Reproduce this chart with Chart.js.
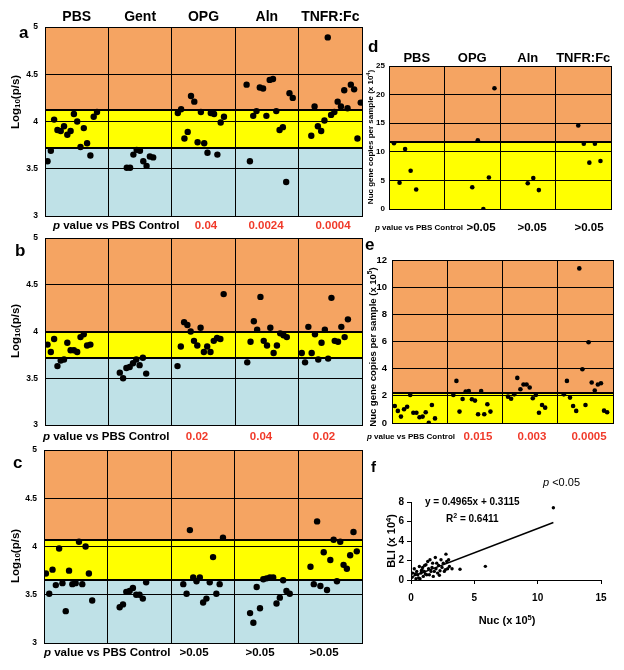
<!DOCTYPE html>
<html lang="en">
<head>
<meta charset="UTF-8">
<title>BLI and Nuc gene copies by treatment</title>
<script src="https://cdn.jsdelivr.net/npm/chart.js"></script>
<style>
  body { margin: 0; background: #fff; }
  #wrap { position: relative; width: 624px; height: 670px; }
  #wrap canvas { position: absolute; left: 0; top: 0; }
</style>
</head>
<body>
<div id="wrap">
  <canvas id="pa" width="624" height="670"></canvas>
  <canvas id="pb" width="624" height="670"></canvas>
  <canvas id="pc" width="624" height="670"></canvas>
  <canvas id="pd" width="624" height="670"></canvas>
  <canvas id="pe" width="624" height="670"></canvas>
  <canvas id="pf" width="624" height="670"></canvas>
</div>
<script>
const FONT = '"Liberation Sans", Arial, sans-serif';
const ORANGE = '#F5A462', YELLOW = '#FFFF00', BLUE = '#BFE1E7', RED = '#F03A2A';

// groups
const groups5 = ['PBS', 'Gent', 'OPG', 'Aln', 'TNFR:Fc'];
const groups4 = ['PBS', 'OPG', 'Aln', 'TNFR:Fc'];

// panel a - Log10(p/s)
const aPBS = [3.58, 3.69, 4.02, 3.91, 3.90, 3.95, 3.86, 3.90, 4.08, 4.00, 3.73, 3.93, 3.77, 3.64, 4.05, 4.10];
const aGent = [3.51, 3.51, 3.65, 3.70, 3.69, 3.58, 3.53, 3.63, 3.62];
const aOPG = [4.09, 4.13, 3.82, 3.89, 4.27, 4.21, 3.78, 4.10, 3.77, 3.67, 4.09, 4.08, 3.65, 3.99, 4.05];
const aAln = [4.39, 3.58, 4.06, 4.11, 4.36, 4.35, 4.06, 4.44, 4.45, 4.11, 3.91, 3.94, 3.36, 4.30, 4.25];
const aTNFR = [3.85, 4.16, 3.95, 3.90, 4.01, 4.89, 4.07, 4.10, 4.21, 4.16, 4.33, 4.14, 4.39, 4.34, 3.82, 4.20];
const aCuts = [3.72, 4.12];
const aP = ['0.04', '0.0024', '0.0004'];

// panel b
const bPBS = [3.86, 3.78, 3.92, 3.63, 3.69, 3.70, 3.88, 3.80, 3.80, 3.78, 3.94, 3.97, 3.85, 3.86];
const bGent = [3.56, 3.50, 3.61, 3.62, 3.66, 3.70, 3.64, 3.72, 3.55];
const bOPG = [3.63, 3.84, 4.10, 4.07, 4.00, 3.90, 3.85, 4.04, 3.78, 3.84, 3.78, 3.90, 3.93, 3.92, 4.40];
const bAln = [3.67, 3.89, 4.11, 4.02, 4.37, 3.90, 3.85, 4.04, 3.77, 3.85, 3.98, 3.96, 3.94];
const bTNFR = [3.77, 3.67, 4.05, 3.77, 3.97, 3.70, 3.88, 4.02, 3.71, 4.36, 3.90, 3.89, 4.05, 3.94, 4.13];
const bCuts = [3.72, 4.0];
const bP = ['0.02', '0.04', '0.02'];

// panel c
const cPBS = [3.72, 3.51, 3.76, 3.60, 3.98, 3.62, 3.33, 3.75, 3.61, 3.62, 4.05, 3.61, 4.00, 3.72, 3.44];
const cGent = [3.37, 3.40, 3.53, 3.54, 3.57, 3.50, 3.50, 3.46, 3.63];
const cOPG = [3.61, 3.51, 4.17, 3.68, 3.64, 3.68, 3.42, 3.46, 3.63, 3.89, 3.51, 3.61, 4.09];
const cAln = [3.31, 3.21, 3.58, 3.36, 3.66, 3.67, 3.68, 3.68, 3.41, 3.47, 3.65, 3.54, 3.51];
const cTNFR = [3.79, 3.61, 4.26, 3.59, 3.94, 3.55, 3.86, 4.07, 3.64, 4.05, 3.81, 3.77, 3.91, 4.15, 3.95];
const cCuts = [3.65, 4.07];
const cP = ['>0.05', '>0.05', '>0.05'];

// panel d - Nuc gene copies per sample (x 10^4)
const dPBS = [11.5, 4.6, 10.5, 6.7, 3.4];
const dOPG = [3.8, 12.0, 0.0, 5.5, 21.1];
const dAln = [4.5, 5.4, 3.3];
const dTNFR = [14.6, 11.4, 8.1, 11.4, 8.4];
const dCuts = [11.66];
const dP = ['>0.05', '>0.05', '>0.05'];

// panel e - Nuc gene copies per sample (x 10^5)
const ePBS = [1.25, 0.89, 0.47, 1.01, 1.20, 2.07, 0.76, 0.76, 0.42, 0.47, 0.79, 0.02, 1.33, 0.34];
const eOPG = [2.07, 3.10, 0.84, 1.77, 2.31, 2.36, 1.75, 1.65, 0.64, 2.36, 0.64, 1.38, 0.84];
const eAln = [1.94, 1.79, 2.11, 3.32, 2.48, 2.83, 2.83, 2.61, 1.82, 2.07, 0.76, 1.33, 1.13];
const eTNFR = [2.11, 3.10, 1.87, 1.25, 0.89, 11.38, 3.96, 1.33, 5.95, 2.98, 2.39, 2.83, 2.93, 0.91, 0.79];
const eCuts = [2.21];
const eP = ['0.015', '0.003', '0.0005'];

// panel f - BLI vs Nuc
const fNuc = [0.08, 0.13, 0.26, 0.34, 0.39, 0.45, 0.53, 0.60, 0.66, 0.71, 0.79, 0.82, 0.87, 0.92, 0.97,
  1.05, 1.08, 1.13, 1.18, 1.24, 1.32, 1.39, 1.45, 1.50, 1.58, 1.66, 1.71, 1.76, 1.84, 1.92, 1.97,
  2.03, 2.10, 2.18, 2.24, 2.29, 2.37, 2.45, 2.55, 2.63, 2.71, 2.76, 2.82, 2.89, 2.97, 3.03, 3.24,
  3.87, 5.87, 11.24];
const fBLI = [0.27, 0.71, 1.16, 0.61, 0.14, 0.88, 0.54, 0.20, 1.39, 0.14, 0.71, 0.95, 1.05, 1.29, 0.37,
  0.88, 1.50, 0.61, 1.56, 0.54, 1.90, 1.16, 0.54, 2.07, 0.88, 1.29, 1.73, 0.37, 0.88, 2.31, 1.16,
  1.73, 0.71, 1.50, 0.48, 0.95, 2.07, 1.29, 1.73, 0.88, 1.05, 2.65, 1.90, 1.16, 2.07, 1.39, 1.16,
  1.10, 1.40, 7.41];
const fitSlope = 0.4965, fitIntercept = 0.3115, fitR2 = 0.6411;

function f(size, style) { return (style || 'bold') + ' ' + size + 'px ' + FONT; }

// draw a run of text pieces (for italics / sub / superscripts)
function drawRun(ctx, parts, x, y, align) {
  let total = 0;
  parts.forEach(p => { ctx.font = p.font; p.w = ctx.measureText(p.text).width; total += p.w; });
  let cx = align === 'center' ? x - total / 2 : x;
  ctx.textAlign = 'left';
  ctx.textBaseline = 'middle';
  parts.forEach(p => { ctx.font = p.font; ctx.fillText(p.text, cx, y + (p.dy || 0)); cx += p.w; });
}

function drawRotated(ctx, parts, x, y) {
  ctx.save();
  ctx.translate(x, y);
  ctx.rotate(-Math.PI / 2);
  drawRun(ctx, parts, 0, 0, 'center');
  ctx.restore();
}

const bandPlugin = {
  id: 'bands',
  beforeDraw(chart, args, o) {
    if (!o.cuts) return;
    const { ctx, chartArea: a, scales: { y } } = chart;
    const edges = [y.min].concat(o.cuts, [y.max]);
    ctx.save();
    o.colors.forEach((c, i) => {
      const top = y.getPixelForValue(edges[i + 1]), bot = y.getPixelForValue(edges[i]);
      ctx.fillStyle = c;
      ctx.fillRect(a.left, top, a.right - a.left, bot - top);
    });
    ctx.restore();
  },
  beforeDatasetsDraw(chart, args, o) {
    if (!o.cuts) return;
    const { ctx, chartArea: a, scales: { y } } = chart;
    ctx.save();
    ctx.strokeStyle = '#000';
    ctx.lineWidth = 2;
    o.cuts.forEach(v => {
      const py = Math.round(y.getPixelForValue(v));
      ctx.beginPath();
      ctx.moveTo(a.left, py);
      ctx.lineTo(a.right, py);
      ctx.stroke();
    });
    ctx.restore();
  }
};

const textPlugin = {
  id: 'texts',
  afterDraw(chart, args, o) {
    const ctx = chart.ctx, xs = chart.scales.x;
    ctx.save();
    ctx.fillStyle = '#000';
    ctx.font = f(o.letterSize);
    ctx.textAlign = 'left';
    ctx.textBaseline = 'alphabetic';
    ctx.fillText(o.letter, o.letterPos[0], o.letterPos[1]);
    if (o.headerY) {
      ctx.font = f(o.headerSize);
      ctx.textAlign = 'center';
      o.groups.forEach((g, i) => ctx.fillText(g, xs.getPixelForValue(i + 0.5), o.headerY));
    }
    if (o.yTitle) drawRotated(ctx, o.yTitle.parts, o.yTitle.x, o.yTitle.y);
    if (o.pRow) {
      const p = o.pRow;
      ctx.fillStyle = '#000';
      drawRun(ctx, [{ text: 'p', font: f(p.size, 'italic bold') }, { text: ' value vs PBS Control', font: f(p.size) }], p.x, p.y, 'left');
      ctx.fillStyle = p.color;
      p.labels.forEach((t, i) => drawRun(ctx, [{ text: t, font: f(p.valSize) }], p.xs[i], p.y, 'center'));
    }
    if (o.extra) o.extra(ctx);
    ctx.restore();
  }
};

const plainTick = v => String(v);

// the axes boxes reach to the page edge (left / bottom) so tick labels are not clipped
function dotChart(o) {
  const pts = [];
  o.series.forEach((vals, g) => vals.forEach((v, i) => pts.push({ x: g + o.xStart[g] + i * o.xStep, y: v })));
  const tickFont = { family: FONT, size: o.tickSize, weight: 'bold' };
  new Chart(document.getElementById(o.id), {
    type: 'scatter',
    data: { datasets: [{ data: pts, backgroundColor: '#000', borderWidth: 0, pointRadius: o.r, pointHoverRadius: o.r }] },
    options: {
      responsive: false, animation: false, devicePixelRatio: 1, events: [],
      layout: { padding: { left: 0, top: o.box[1], right: 624 - o.box[2], bottom: 0 } },
      scales: {
        x: {
          type: 'linear', min: 0, max: o.series.length,
          ticks: { display: false, stepSize: 1 },
          grid: { color: '#000', lineWidth: 1, drawTicks: false },
          border: { color: '#000', width: 1 },
          afterFit: s => { s.height = 670 - o.box[3]; }
        },
        y: {
          min: o.y[0], max: o.y[1],
          ticks: { stepSize: o.y[2], font: tickFont, color: '#000', padding: o.tickPad, callback: plainTick },
          grid: { color: '#000', lineWidth: 1, drawTicks: false },
          border: { color: '#000', width: 1 },
          afterFit: s => { s.width = o.box[0]; }
        }
      },
      plugins: {
        legend: { display: false }, tooltip: { enabled: false },
        bands: { cuts: o.cuts, colors: o.colors },
        texts: o.texts
      }
    },
    plugins: [bandPlugin, textPlugin]
  });
}

const logTitle = (x, y) => ({
  x, y, parts: [
    { text: 'Log', font: f(11.5) }, { text: '10', font: f(8), dy: 2 }, { text: '(p/s)', font: f(11.5) }
  ]
});
const nucTitle = (x, y, size, exp) => ({
  x, y, parts: [
    { text: 'Nuc gene copies per sample (x 10', font: f(size) },
    { text: exp, font: f(size * 0.7), dy: -3 }, { text: ')', font: f(size) }
  ]
});

dotChart({
  id: 'pa', series: [aPBS, aGent, aOPG, aAln, aTNFR], xStart: [0.04, 0.29, 0.095, 0.18, 0.2], xStep: 0.052,
  box: [45, 27, 362, 216], y: [3, 5, 0.5], tickSize: 8.5, tickPad: 7, r: 3.2,
  cuts: aCuts, colors: [BLUE, YELLOW, ORANGE],
  texts: {
    letter: 'a', letterSize: 17, letterPos: [19, 38], groups: groups5, headerY: 21, headerSize: 14,
    yTitle: logTitle(16, 102),
    pRow: { x: 53, y: 226, size: 11.5, valSize: 11.5, labels: aP, xs: [206, 266, 333], color: RED }
  }
});

dotChart({
  id: 'pb', series: [bPBS, bGent, bOPG, bAln, bTNFR], xStart: [0.04, 0.18, 0.09, 0.19, 0.05], xStep: 0.052,
  box: [45, 238, 362, 425], y: [3, 5, 0.5], tickSize: 8.5, tickPad: 7, r: 3.2,
  cuts: bCuts, colors: [BLUE, YELLOW, ORANGE],
  texts: {
    letter: 'b', letterSize: 17, letterPos: [15, 256],
    yTitle: logTitle(16, 331),
    pRow: { x: 43, y: 437, size: 11.5, valSize: 11.5, labels: bP, xs: [197, 261, 324], color: RED }
  }
});

dotChart({
  id: 'pc', series: [cPBS, cGent, cOPG, cAln, cTNFR], xStart: [0.03, 0.19, 0.19, 0.24, 0.19], xStep: 0.052,
  box: [44, 450, 362, 643], y: [3, 5, 0.5], tickSize: 8.5, tickPad: 7, r: 3.2,
  cuts: cCuts, colors: [BLUE, YELLOW, ORANGE],
  texts: {
    letter: 'c', letterSize: 17, letterPos: [13, 468],
    yTitle: logTitle(16, 556),
    pRow: { x: 44, y: 653, size: 11.5, valSize: 11.5, labels: cP, xs: [194, 260, 324], color: '#000' }
  }
});

dotChart({
  id: 'pd', series: [dPBS, dOPG, dAln, dTNFR], xStart: [0.09, 0.5, 0.5, 0.41], xStep: 0.1,
  box: [389, 66, 611, 209], y: [0, 25, 5], tickSize: 8, tickPad: 4, r: 2.3,
  cuts: dCuts, colors: [YELLOW, ORANGE],
  texts: {
    letter: 'd', letterSize: 17, letterPos: [368, 52], groups: groups4, headerY: 62, headerSize: 13,
    yTitle: nucTitle(371, 137, 8, '4'),
    pRow: { x: 375, y: 228, size: 8, valSize: 11.5, labels: dP, xs: [481, 532, 589], color: '#000' }
  }
});

dotChart({
  id: 'pe', series: [ePBS, eOPG, eAln, eTNFR], xStart: [0.05, 0.11, 0.1, 0.11], xStep: 0.056,
  box: [392, 260, 613, 423], y: [0, 12, 2], tickSize: 9.5, tickPad: 5, r: 2.3,
  cuts: eCuts, colors: [YELLOW, ORANGE],
  texts: {
    letter: 'e', letterSize: 17, letterPos: [365, 250],
    yTitle: nucTitle(373, 347, 9.5, '5'),
    pRow: { x: 367, y: 437, size: 8, valSize: 11.5, labels: eP, xs: [478, 532, 589], color: RED }
  }
});

// panel f: scatter with linear fit
const fPoints = fNuc.map((x, i) => ({ x, y: fBLI[i] }));
const fMax = Math.max(...fNuc);
const fLine = [{ x: 0, y: fitIntercept }, { x: fMax, y: fitSlope * fMax + fitIntercept }];
const fTick = { family: FONT, size: 10, weight: 'bold' };

new Chart(document.getElementById('pf'), {
  type: 'scatter',
  data: {
    datasets: [
      { data: fPoints, backgroundColor: '#000', borderWidth: 0, pointRadius: 1.7, pointHoverRadius: 1.7 },
      { data: fLine, showLine: true, borderColor: '#000', borderWidth: 1.5, pointRadius: 0 }
    ]
  },
  options: {
    responsive: false, animation: false, devicePixelRatio: 1, events: [],
    layout: { padding: { left: 0, top: 502, right: 624 - 601, bottom: 0 } },
    scales: {
      x: {
        type: 'linear', min: 0, max: 15,
        ticks: { stepSize: 5, font: fTick, color: '#000', padding: 8, callback: plainTick },
        grid: { drawOnChartArea: false, color: '#000', tickLength: 4 },
        border: { color: '#000', width: 1 },
        afterFit: s => { s.height = 670 - 580; }
      },
      y: {
        min: 0, max: 8,
        ticks: { stepSize: 2, font: fTick, color: '#000', padding: 3, callback: plainTick },
        grid: { drawOnChartArea: false, color: '#000', tickLength: 4 },
        border: { color: '#000', width: 1 },
        afterFit: s => { s.width = 411; }
      }
    },
    plugins: {
      legend: { display: false }, tooltip: { enabled: false },
      texts: {
        letter: 'f', letterSize: 15, letterPos: [371, 472],
        yTitle: {
          x: 392, y: 541, parts: [
            { text: 'BLI (x 10', font: f(11) }, { text: '4', font: f(7.5), dy: -3 }, { text: ')', font: f(11) }
          ]
        },
        extra: ctx => {
          ctx.fillStyle = '#000';
          drawRun(ctx, [{ text: 'p', font: f(11, 'italic') }, { text: ' <0.05', font: f(11, 'normal') }], 543, 483, 'left');
          drawRun(ctx, [{ text: 'y = ' + fitSlope + 'x + ' + fitIntercept, font: f(10) }], 425, 502, 'left');
          drawRun(ctx, [{ text: 'R', font: f(10) }, { text: '2', font: f(7), dy: -3 }, { text: ' = ' + fitR2, font: f(10) }], 446, 519, 'left');
          drawRun(ctx, [{ text: 'Nuc (x 10', font: f(11) }, { text: '5', font: f(7.5), dy: -3 }, { text: ')', font: f(11) }], 507, 621, 'center');
        }
      }
    }
  },
  plugins: [textPlugin]
});
</script>
</body>
</html>
